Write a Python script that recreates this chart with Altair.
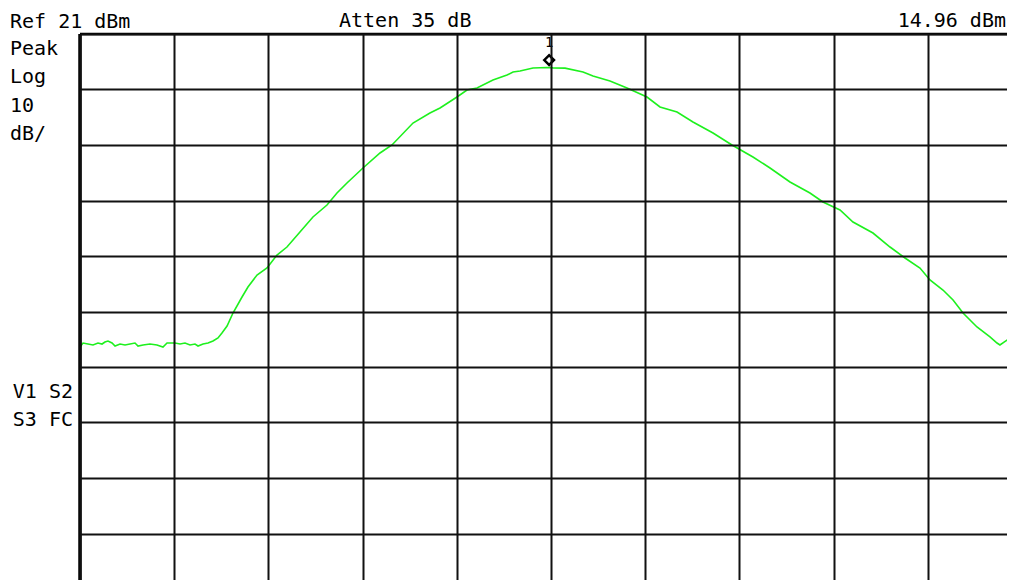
import altair as alt
import pandas as pd

# ---- data (x in screen divisions, y in dBm) ----
freq_div = [0.000, 0.032, 0.085, 0.138, 0.191, 0.234, 0.265, 0.297, 0.340, 0.372,
            0.425, 0.478, 0.531, 0.584, 0.616, 0.669, 0.743, 0.817, 0.881, 0.924,
            0.955, 1.008, 1.062, 1.115, 1.168, 1.221, 1.253, 1.306, 1.359, 1.412,
            1.465, 1.507, 1.561, 1.624, 1.720, 1.783, 1.879, 1.985, 2.091, 2.197,
            2.335, 2.473, 2.622, 2.728, 2.834, 3.004, 3.185, 3.312, 3.535, 3.715,
            3.822, 4.002, 4.108, 4.214, 4.384, 4.533, 4.597, 4.671, 4.809, 4.958,
            5.021, 5.149, 5.340, 5.446, 5.626, 5.807, 6.019, 6.157, 6.338, 6.507,
            6.720, 6.921, 7.144, 7.325, 7.537, 7.749, 7.887, 8.068, 8.206, 8.418,
            8.599, 8.758, 8.917, 9.023, 9.161, 9.268, 9.374, 9.522, 9.660, 9.735,
            9.766, 9.841, 9.926, 10.000]
level_dbm = [-35.40, -34.68, -34.86, -35.04, -34.68, -34.86, -34.50, -34.32, -34.68, -35.22,
             -34.86, -35.04, -34.86, -34.68, -35.22, -35.04, -34.86, -35.04, -35.40, -34.68,
             -34.68, -34.68, -34.86, -34.68, -35.04, -34.86, -35.22, -34.86, -34.68, -34.32,
             -33.77, -32.87, -31.61, -29.27, -26.39, -24.59, -22.42, -21.16, -18.82, -17.38,
             -14.68, -11.97, -9.81, -7.65, -5.85, -3.14, -0.44, 1.00, 4.96, 6.77,
             7.67, 9.65, 10.91, 11.27, 12.71, 13.61, 14.15, 14.33, 14.87, 14.96,
             14.90, 14.85, 14.15, 13.43, 12.53, 11.27, 9.65, 7.85, 6.95, 5.14,
             3.16, 1.00, -1.16, -3.14, -5.67, -7.65, -9.27, -10.71, -12.87, -14.86,
             -17.38, -19.36, -21.16, -23.32, -25.13, -26.93, -29.27, -31.79, -33.59, -34.68,
             -35.04, -34.14, -34.68, -34.86]

ref_level = 21
db_per_div = 10
atten_db = 35
marker_div = [4.98]
marker_dbm = [14.96]
marker_label = ["1"]
left_labels = ["Peak", "Log", "10", "dB/"]
status_labels = ["V1 S2", "S3 FC"]

# visible part of the 10x10 graticule (the screen is cut at the window edge)
DIV_W, DIV_H = 94.2, 55.5
W, H = 927, 546
x_max = W / DIV_W
y_min = ref_level - H / DIV_H * db_per_div
FONT = "DejaVu Sans Mono"
GREEN = "#1ef01e"

df = pd.DataFrame({"x": freq_div, "y": level_dbm})
mk = pd.DataFrame({"x": marker_div, "y": marker_dbm, "t": marker_label})

xs = alt.Scale(domain=[0, x_max], nice=False, zero=False)
ys = alt.Scale(domain=[y_min, ref_level], nice=False, zero=False)

xv = [i for i in range(11) if i <= x_max]
yv = [ref_level - i * db_per_div for i in range(11) if ref_level - i * db_per_div >= y_min]

ax_x = alt.Axis(values=xv, grid=True, gridColor="#111111",
                gridWidth=2, gridOpacity=1, labels=False, ticks=False, domain=False,
                title="", zindex=1)
ax_y = alt.Axis(values=yv, grid=True,
                gridColor="#111111", gridWidth=2, gridOpacity=1, labels=False,
                ticks=False, domain=False, title="", zindex=1)

trace = alt.Chart(df).mark_line(color=GREEN, strokeWidth=1.6, clip=True).encode(
    x=alt.X("x:Q", scale=xs, axis=ax_x),
    y=alt.Y("y:Q", scale=ys, axis=ax_y),
)

one = alt.Data(values=[{}])
left_border = alt.Chart(one).mark_rule(color="#000000", strokeWidth=3.5).encode(
    x=alt.value(0), y=alt.value(0), y2=alt.value(H))
top_border = alt.Chart(one).mark_rule(color="#000000", strokeWidth=2.5).encode(
    x=alt.value(0), x2=alt.value(W), y=alt.value(0))

marker = alt.Chart(mk).mark_point(shape="diamond", filled=False, color="#000000",
                                  strokeWidth=2.5, size=95, yOffset=-7.5, opacity=1).encode(
    x=alt.X("x:Q", scale=xs), y=alt.Y("y:Q", scale=ys))
marker_txt = alt.Chart(mk).mark_text(font=FONT, fontSize=14, color="#000000",
                                     baseline="alphabetic", dy=-20.5).encode(
    x=alt.X("x:Q", scale=xs), y=alt.Y("y:Q", scale=ys), text="t:N")


def label(txt, x, y, align="left"):
    return alt.Chart(one).mark_text(text=txt, font=FONT, fontSize=20, color="#000000",
                                    align=align, baseline="alphabetic").encode(
        x=alt.value(x), y=alt.value(y))


texts = [
    label(f"Ref {ref_level} dBm", -70, -6),
    label(f"Atten {atten_db} dB", 259, -7),
    label(f"{marker_dbm[0]:.2f} dBm", W - 1, -7, align="right"),
]
for i, t in enumerate(left_labels):
    texts.append(label(t, -70, 21 + i * 28.3))
for i, t in enumerate(status_labels):
    texts.append(label(t, -7, 364 + i * 28, align="right"))

chart = alt.layer(trace, left_border, top_border, marker, marker_txt, *texts).properties(
    width=W, height=H,
    autosize=alt.AutoSizeParams(type="none"),
    padding={"left": 72, "top": 26, "right": 0, "bottom": 0},
    background="#ffffff",
).configure_view(strokeWidth=0)

chart.save("out.html", embed_options={"renderer": "svg", "actions": False})
